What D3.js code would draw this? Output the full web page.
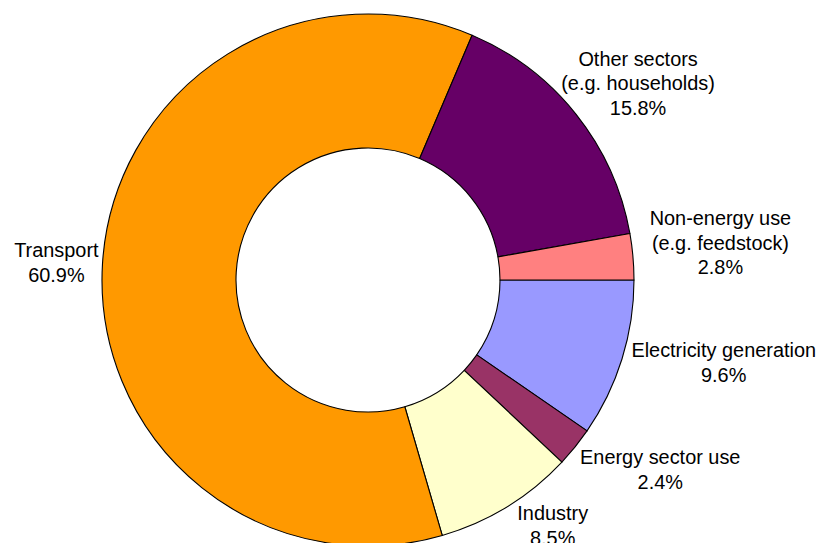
<!DOCTYPE html>
<html>
<head>
<meta charset="utf-8">
<script src="https://cdn.jsdelivr.net/npm/d3@7"></script>
<style>
  html, body { margin: 0; padding: 0; background: #fff; }
  svg { display: block; }
  text { font-family: "Liberation Sans", Arial, sans-serif; fill: #000; }
</style>
</head>
<body>
<svg id="chart" width="819" height="543"></svg>
<script>
// Share of final consumption by sector (percent), listed clockwise from 3 o'clock
const sectors = ["Electricity generation", "Energy sector use", "Industry", "Transport", "Other sectors", "Non-energy use"];
const labelLines = [
  ["Electricity generation"],
  ["Energy sector use"],
  ["Industry"],
  ["Transport"],
  ["Other sectors", "(e.g. households)"],
  ["Non-energy use", "(e.g. feedstock)"]
];
const shares = [9.6, 2.4, 8.5, 60.9, 15.8, 2.8];
const colors = ["#9999FF", "#993366", "#FFFFCC", "#FF9900", "#660066", "#FF8080"];

const width = 819, height = 543;
const cx = 368, cy = 280;
const outerR = 266, innerR = 132;
const fontSize = 19.9, lineH = 24.5, capH = 14;

// small hand adjustments to the automatic label placement
const labelNudge = {
  "Electricity generation": [4, -5],
  "Energy sector use": [15, 4],
  "Industry": [22, -6],
  "Transport": [6, 0],
  "Other sectors": [-6, -5],
  "Non-energy use": [7, -10]
};

const data = sectors.map((s, i) => ({
  sector: s,
  lines: labelLines[i].concat([d3.format(".1f")(shares[i]) + "%"]),
  value: shares[i],
  color: colors[i]
}));

const svg = d3.select("#chart");
const g = svg.append("g").attr("transform", `translate(${cx},${cy})`);

const pie = d3.pie()
  .value(d => d.value)
  .sort(null)
  .startAngle(Math.PI / 2)
  .endAngle(Math.PI / 2 + 2 * Math.PI);

const arc = d3.arc().innerRadius(innerR).outerRadius(outerR);
const arcs = pie(data);

g.selectAll("path.slice")
  .data(arcs)
  .join("path")
  .attr("class", "slice")
  .attr("d", arc)
  .attr("fill", d => d.data.color)
  .attr("stroke", "#000")
  .attr("stroke-width", 1.1)
  .attr("stroke-linejoin", "round");

// labels: anchored just outside the ring, box pushed outward along the mid angle
const gap = 10;
const labels = g.selectAll("g.label")
  .data(arcs)
  .join("g")
  .attr("class", "label");

labels.each(function(d) {
  const sel = d3.select(this);
  const n = d.data.lines.length;
  const t = sel.append("text")
    .attr("text-anchor", "middle")
    .style("font-size", fontSize + "px");
  t.selectAll("tspan")
    .data(d.data.lines)
    .join("tspan")
    .attr("x", 0)
    .attr("y", (l, i) => i * lineH)
    .text(l => l);
  let w = 0;
  t.selectAll("tspan").each(function() { w = Math.max(w, this.getComputedTextLength()); });
  const h = (n - 1) * lineH + capH;
  const mid = (d.startAngle + d.endAngle) / 2;
  // d3 angles run clockwise from 12 o'clock
  const ux = Math.sin(mid), uy = -Math.cos(mid);
  const nudge = labelNudge[d.data.sector] || [0, 0];
  const bx = ux * (outerR + gap) + ux * w / 2 + nudge[0];
  const by = uy * (outerR + gap) + uy * h / 2 + nudge[1];
  // first baseline so that the text block is centred on (bx, by)
  const y0 = by - h / 2 + capH;
  sel.attr("transform", `translate(${bx},${y0})`);
});
</script>
</body>
</html>
